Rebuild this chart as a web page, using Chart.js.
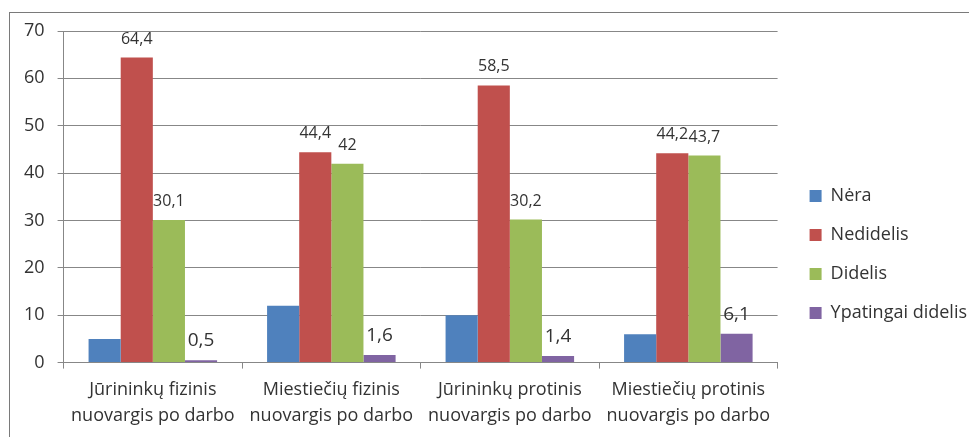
<!DOCTYPE html>
<html lang="lt">
<head>
<meta charset="utf-8">
<title>Nuovargis po darbo</title>
<script src="https://cdn.jsdelivr.net/npm/chart.js@4"></script>
<style>
  html, body { margin: 0; padding: 0; background: #ffffff; overflow: hidden; }
  #frame {
    position: absolute; left: 9px; top: 12px;
    width: 1100px; height: 500px;
    border: 1px solid #7a7a7a;
    box-sizing: border-box;
  }
  #chart { position: absolute; left: 0; top: 0; }
</style>
</head>
<body>
<div id="frame"></div>
<canvas id="chart" width="1010" height="437" style="width:1010px;height:437px"></canvas>
<script>
// Categories (two-line tick labels)
const categories = [
  ['Jūrininkų fizinis', 'nuovargis po darbo'],
  ['Miestiečių fizinis', 'nuovargis po darbo'],
  ['Jūrininkų protinis', 'nuovargis po darbo'],
  ['Miestiečių protinis', 'nuovargis po darbo']
];

// Series names
const seriesNames = ['Nėra', 'Nedidelis', 'Didelis', 'Ypatingai didelis'];

// Series values (%)
const nera = [5, 12, 10, 6];
const nedidelis = [64.4, 44.4, 58.5, 44.2];
const didelis = [30.1, 42, 30.2, 43.7];
const ypatingaiDidelis = [0.5, 1.6, 1.4, 6.1];

// Value axis ticks
const yTicks = [0, 10, 20, 30, 40, 50, 60, 70];

const FONT = '"Open Sans", "DejaVu Sans", sans-serif';
const TEXT = '#333333';
const GRID = '#878787';

// Writes the bar values above the bars, with a decimal comma
const valueLabels = {
  id: 'valueLabels',
  afterDatasetsDraw(chart) {
    const ctx = chart.ctx;
    chart.data.datasets.forEach((ds, i) => {
      if (!ds.labelSize) return;
      const meta = chart.getDatasetMeta(i);
      ctx.save();
      ctx.font = ds.labelSize + 'px ' + FONT;
      ctx.fillStyle = TEXT;
      ctx.textAlign = 'center';
      ctx.textBaseline = 'alphabetic';
      meta.data.forEach((bar, j) => {
        const txt = String(ds.data[j]).replace('.', ',');
        ctx.fillText(txt, bar.x, bar.y - 14);
      });
      ctx.restore();
    });
  }
};

// Moves the legend block away from the plot area
const legendShift = {
  id: 'legendShift',
  afterLayout(chart, args, opts) {
    const lg = chart.legend;
    if (!lg) return;
    lg.left += opts.dx; lg.right += opts.dx;
    lg.top += opts.dy; lg.bottom += opts.dy;
  }
};

new Chart(document.getElementById('chart'), {
  type: 'bar',
  data: {
    labels: categories,
    datasets: [
      { label: seriesNames[0], data: nera, backgroundColor: '#4f81bd', labelSize: 0 },
      { label: seriesNames[1], data: nedidelis, backgroundColor: '#c0504d', labelSize: 16 },
      { label: seriesNames[2], data: didelis, backgroundColor: '#9bbb59', labelSize: 16 },
      { label: seriesNames[3], data: ypatingaiDidelis, backgroundColor: '#8064a2', labelSize: 19 }
    ]
  },
  plugins: [valueLabels, legendShift],
  options: {
    responsive: false,
    animation: false,
    events: [],
    datasets: {
      bar: { categoryPercentage: 0.72, barPercentage: 1.0, borderWidth: 0 }
    },
    layout: { padding: { left: 11, top: 31, right: 44, bottom: 0 } },
    scales: {
      x: {
        grid: { display: true, drawOnChartArea: false, color: GRID, tickLength: 6, offset: true },
        border: { display: true, color: GRID },
        ticks: {
          color: TEXT, font: { family: FONT, size: 18, lineHeight: 1.4 },
          padding: 9, maxRotation: 0, autoSkip: false
        }
      },
      y: {
        min: yTicks[0],
        max: yTicks[yTicks.length - 1],
        afterBuildTicks(scale) { scale.ticks = yTicks.map(v => ({ value: v })); },
        grid: { color: GRID, tickLength: 6 },
        border: { display: true, color: GRID },
        ticks: { color: TEXT, font: { family: FONT, size: 18 }, padding: 13 }
      }
    },
    plugins: {
      legend: {
        position: 'right',
        align: 'start',
        labels: {
          color: TEXT,
          font: { family: FONT, size: 18 },
          boxWidth: 12, boxHeight: 12, padding: 21
        }
      },
      legendShift: { dx: 11, dy: 135 },
      tooltip: { enabled: false }
    }
  }
});
</script>
</body>
</html>
